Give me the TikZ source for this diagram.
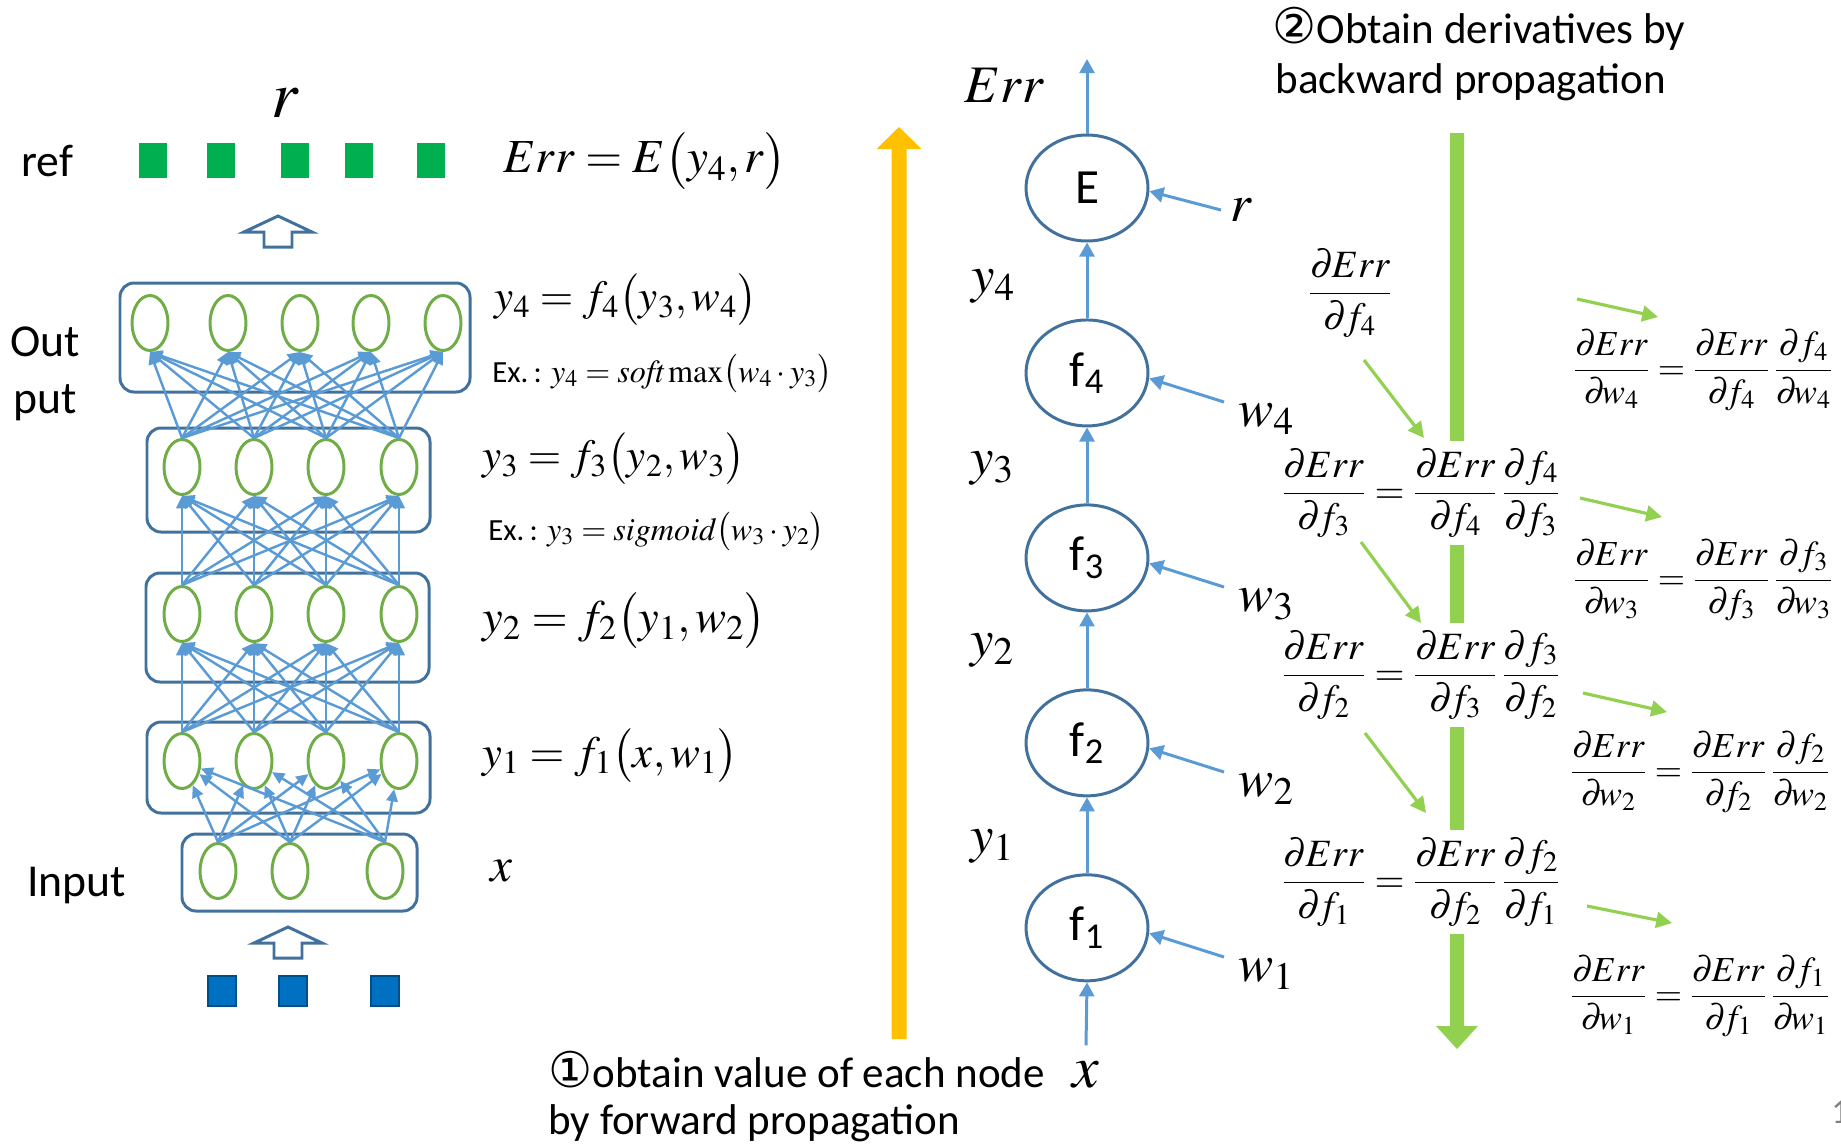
\documentclass[tikz,border=0pt]{standalone}
\usepackage{mathptmx}
\usepackage[no-math]{fontspec}
\setmainfont{Carlito}
\newfontfamily\circfont{DejaVu Sans}
\usetikzlibrary{arrows.meta, positioning, shapes.geometric}
\definecolor{cnet}{HTML}{5B9BD5}
\definecolor{cbox}{HTML}{41719C}
\definecolor{cunit}{HTML}{70AD47}
\definecolor{cref}{HTML}{00B050}
\definecolor{cin}{HTML}{0070C0}
\definecolor{cfwd}{HTML}{FFC000}
\definecolor{cbwd}{HTML}{92D050}
\newcommand{\fsz}[1]{\fontsize{#1}{#1}\selectfont}
\newcommand{\pdv}[2]{\frac{\partial\mkern-1mu #1}{\partial\mkern-2mu #2}}
\newcommand{\circnum}[1]{{\circfont\fsz{28}#1}}
\tikzset{
  every picture/.style={line width=1.6pt},
  unit/.style={ellipse, draw=cunit, line width=1.7pt, minimum width=0.72cm, minimum height=1.1cm, inner sep=0pt},
  layerbox/.style={draw=cbox, line width=1.7pt, rounded corners=8pt},
  link/.style={-{Triangle[length=7pt,width=6.5pt]}, draw=cnet, line width=1.4pt},
  fnode/.style={ellipse, draw=cbox, line width=1.7pt, minimum width=2.44cm, minimum height=2.12cm, inner sep=0pt, font=\fsz{28}},
  flow/.style={-{Triangle[length=8pt,width=8.5pt]}, draw=cnet, line width=1.7pt},
  grad/.style={-{Triangle[length=9pt,width=9pt]}, draw=cbwd, line width=1.8pt},
  word/.style={inner sep=0pt, font=\fsz{26}},
  note/.style={inner sep=0pt, font=\fsz{24.5}},
  eqn/.style={inner sep=0pt, font=\fsz{25}},
  exeq/.style={inner sep=0pt, anchor=west},
  clabel/.style={inner sep=0pt, font=\fsz{30}},
  dform/.style={fill=white, inner xsep=2pt, inner ysep=4pt, font=\fsz{22}},
  wform/.style={inner sep=0pt, font=\fsz{20}},
  hollow/.style={draw=cbox, line width=1.7pt, fill=white, line join=miter},
}

\begin{document}
\begin{tikzpicture}[x=0.02cm, y=-0.02cm]
  \useasboundingbox (0,0) rectangle (1841,1144);
  % network
  \draw[layerbox] (120,283) rectangle (470,392);
  \draw[layerbox] (147,428) rectangle (430,532);
  \draw[layerbox] (146,573) rectangle (429,682);
  \draw[layerbox] (147,722) rectangle (430,813);
  \draw[layerbox] (182,834) rectangle (417,911);
  \foreach \k/\px in {1/150, 2/228, 3/300, 4/371, 5/443} \node[unit] (o\k) at (\px,323) {};
  \foreach \k/\px in {1/182, 2/254, 3/326, 4/399} {
    \node[unit] (c\k) at (\px,467) {};
    \node[unit] (b\k) at (\px,614) {};
    \node[unit] (a\k) at (\px,761) {};
  }
  \foreach \k/\px in {1/218, 2/290, 3/385} \node[unit] (i\k) at (\px,871) {};
  \foreach \u in {1,...,4} {
    \foreach \v in {1,...,5} \draw[link] (c\u.north) -- (o\v.south);
    \foreach \v in {1,...,4} {
      \draw[link] (b\u.north) -- (c\v.south);
      \draw[link] (a\u.north) -- (b\v.south);
    }
  }
  \foreach \u in {1,2,3} \foreach \v in {1,...,4} \draw[link] (i\u.north) -- (a\v);
  \foreach \sx in {153,221,295,359,431} \fill[cref] (\sx-14,143) rectangle (\sx+14,178);
  \foreach \sx in {222,293,385} \filldraw[fill=cin, draw=cin!70!black, line width=0.6pt] (\sx-14,976) rectangle (\sx+14,1006);
  \foreach \hx/\hy in {278/216, 288/927}
    \draw[hollow] (\hx,\hy) -- ++(34,16) -- ++(-20,0) -- ++(0,15) -- ++(-28,0) -- ++(0,-15) -- ++(-20,0) -- cycle;
  \node[inner sep=0pt, font=\fsz{38}, anchor=base] (rtop) at (285,117) {$r$};
  \node[word, anchor=base west] (reflbl) at (20,176) {ref};
  \node[word, anchor=base west] (outlbl) at (9,356) {Out};
  \node[word, anchor=base west] (putlbl) at (12,413) {put};
  \node[word, anchor=base west] (inlbl) at (26,896) {Input};
  \node[eqn, font=\fsz{27}, anchor=west] (erreq) at (502,161) {$Err = E\bigl(y_4, r\bigr)$};
  \node[eqn, font=\fsz{24.5}, anchor=west] (y4eq) at (493,300) {$y_4 = f_4\bigl(y_3, w_4\bigr)$};
  \node[exeq] (y4ex) at (491,374) {\fsz{17.5}Ex.\,: \fsz{18.3}$y_4 = \mathit{soft}\max\bigl(w_4\cdot y_3\bigr)$};
  \node[eqn, font=\fsz{24.5}, anchor=west] (y3eq) at (481,459) {$y_3 = f_3\bigl(y_2, w_3\bigr)$};
  \node[exeq] (y3ex) at (487,532) {\fsz{17.5}Ex.\,: \fsz{18.3}$y_3 = \mathit{sigmoid}\bigl(w_3\cdot y_2\bigr)$};
  \node[eqn, font=\fsz{26.5}, anchor=west] (y2eq) at (481,621) {$y_2 = f_2\bigl(y_1, w_2\bigr)$};
  \node[eqn, font=\fsz{25.5}, anchor=west] (y1eq) at (481,756) {$y_1 = f_1\bigl(x, w_1\bigr)$};
  \node[clabel, font=\fsz{28}] (xin) at (501,871) {$x$};
  % forward
  \fill[cfwd] (891.5,1039) -- (891.5,149) -- (876.5,149) -- (899,127) -- (921.5,149) -- (906.5,149) -- (906.5,1039) -- cycle;
  \node[note, anchor=base west] (fwd1) at (547,1087) {\circnum{①}obtain value of each node};
  \node[note, anchor=base west] (fwd2) at (547,1134) {by forward propagation};
  % chain
  \node[fnode] (E) at (1087,188) {E};
  \node[fnode, below=1.52cm of E] (f4) {f\textsubscript{4}};
  \node[fnode, below=1.52cm of f4] (f3) {f\textsubscript{3}};
  \node[fnode, below=1.52cm of f3] (f2) {f\textsubscript{2}};
  \node[fnode, below=1.52cm of f2] (f1) {f\textsubscript{1}};
  \foreach \lo/\hi in {f1/f2, f2/f3, f3/f4, f4/E} \draw[flow] (\lo) -- (\hi);
  \coordinate (errtop) at (1087,59);
  \draw[flow] (E) -- (errtop);
  \node[clabel, anchor=base west] (errlbl) at (963,102) {$Err$};
  \node[clabel] (yl4) at (993,286) {$y_4$};
  \node[clabel] (yl3) at (992,468) {$y_3$};
  \node[clabel] (yl2) at (992,650) {$y_2$};
  \node[clabel] (yl1) at (992,846) {$y_1$};
  \node[clabel, anchor=west, inner xsep=0.16cm] (rl) at (1221,210) {$r$};
  \draw[flow] (rl.west) -- (E.-3);
  \foreach \k/\ny in {4/373, 3/558, 2/743, 1/928} {
    \node[clabel, anchor=north west, inner xsep=0.26cm] (wl\k) at (1224,\ny+29) {$w_\k$};
    \draw[flow] (wl\k.north west) -- (f\k.-5);
  }
  \node[clabel, font=\fsz{34}, inner ysep=0.3cm] (xl) at (1086,1075) {$x$};
  \draw[flow] (xl.north) -- (f1.south);
  % backward
  \node[note, anchor=base west] (bwd1) at (1271,43) {\circnum{②}Obtain derivatives by};
  \node[note, anchor=base west] (bwd2) at (1274,93) {backward propagation};
  \fill[cbwd] (1450,133) -- (1464,133) -- (1464,1026) -- (1478,1026) -- (1457,1049) -- (1436,1026) -- (1450,1026) -- cycle;
  \node[dform] (dF4) at (1350,293) {$\displaystyle\pdv{Err}{f_4}$};
  \node[dform] (eq3) at (1421,493) {$\displaystyle\pdv{Err}{f_3}=\pdv{Err}{f_4}\,\pdv{f_4}{f_3}$};
  \node[dform] (eq2) at (1421,675) {$\displaystyle\pdv{Err}{f_2}=\pdv{Err}{f_3}\,\pdv{f_3}{f_2}$};
  \node[dform] (eq1) at (1421,882) {$\displaystyle\pdv{Err}{f_1}=\pdv{Err}{f_2}\,\pdv{f_2}{f_1}$};
  \node[wform] (W4) at (1703,370) {$\displaystyle\pdv{Err}{w_4}=\pdv{Err}{f_4}\,\pdv{f_4}{w_4}$};
  \node[wform] (W3) at (1703,580) {$\displaystyle\pdv{Err}{w_3}=\pdv{Err}{f_3}\,\pdv{f_3}{w_3}$};
  \node[wform] (W2) at (1700,772) {$\displaystyle\pdv{Err}{w_2}=\pdv{Err}{f_2}\,\pdv{f_2}{w_2}$};
  \node[wform] (W1) at (1700,996) {$\displaystyle\pdv{Err}{w_1}=\pdv{Err}{f_1}\,\pdv{f_1}{w_1}$};
  \draw[grad] ([shift={(14,67)}]dF4.center) -- ([shift={(3,-55)}]eq3.center);
  \draw[grad] ([shift={(-60,49)}]eq3.center) -- ([shift={(0,-52)}]eq2.center);
  \draw[grad] ([shift={(-56,58)}]eq2.center) -- ([shift={(5,-69)}]eq1.center);
  \foreach \k/\sx/\sy/\ex/\ey in {4/-126/-71/-45/-53, 3/-123/-82/-41/-63, 2/-117/-79/-33/-60, 1/-113/-90/-28/-73}
    \draw[grad] ([shift={(\sx,\sy)}]W\k.center) -- ([shift={(\ex,\ey)}]W\k.center);
  \node[inner sep=0pt, anchor=west, text=gray, font=\fsz{20}] (pagenum) at (1830,1112) {1};
\end{tikzpicture}
\end{document}
